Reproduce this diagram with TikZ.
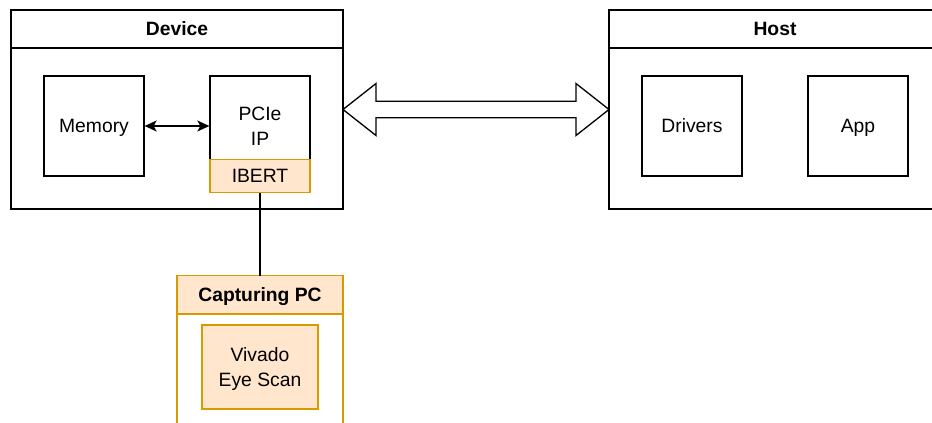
\documentclass[tikz,border=0pt]{standalone}
\usepackage{fontspec}
\setmainfont{Liberation Sans}
\usetikzlibrary{calc,arrows.meta}
\definecolor{orfill}{HTML}{FFE6CC}
\definecolor{orline}{HTML}{D79B00}
% line strut: keeps every label line the same height
\newcommand\lstrut{\rule[-6pt]{0pt}{25pt}}
\begin{document}
\begin{tikzpicture}[x=1pt,y=-1pt,
  lw/.style={line width=1.3pt},
  txt/.style={font=\fontsize{19.3}{25}\selectfont, align=center},
  block/.style={lw, draw=black, fill=white, minimum width=100pt, minimum height=100pt, inner sep=0pt, txt},
  frame/.style={lw, draw=black, fill=white, inner sep=0pt},
  head/.style={txt, font=\fontsize{19.3}{25}\selectfont\bfseries},
  orbox/.style={lw, draw=orline, fill=orfill, inner sep=0pt, txt}
]
\useasboundingbox (0,0) rectangle (932,423);
\clip (0,0) rectangle (932,423);

% Device container
\draw[frame] (11,10) rectangle (343,209);
\draw[lw] (11,48) -- (343,48);
\node[head] (devtitle) at (177,29) {Device\lstrut};
\coordinate (deve) at (343,109.5);

\node[block] (mem) at (94,126) {Memory\lstrut};
\node[block] (pcie) at (260,126) {PCIe\lstrut\\IP\lstrut};
\node[orbox, minimum width=100pt, minimum height=33pt] (ibert) at (260,176) {IBERT\lstrut};
\draw[lw, {Stealth[length=12pt,width=11pt,inset=3pt]}-{Stealth[length=12pt,width=11pt,inset=3pt]}] (mem.east) -- (pcie.west);

% Host container
\draw[frame] (609,10) rectangle (945,209);
\draw[lw] (609,48) -- (945,48);
\node[head] (hosttitle) at (775,29) {Host\lstrut};
\coordinate (hostw) at (609,109.5);

\node[block] (drv) at (692,126) {Drivers\lstrut};
\node[block] (app) at (858,126) {App\lstrut};

% Wide bidirectional link between device and host
\draw[lw, fill=white, line join=miter]
  (deve)
  -- ($(deve)+(33,-26)$) -- ($(deve)+(33,-8.3)$)
  -- ($(hostw)+(-33,-8.3)$) -- ($(hostw)+(-33,-26)$)
  -- (hostw)
  -- ($(hostw)+(-33,26)$) -- ($(hostw)+(-33,8.3)$)
  -- ($(deve)+(33,8.3)$) -- ($(deve)+(33,26)$) -- cycle;

% Capturing PC container
\draw[lw, draw=orline, fill=white] (177,275.7) rectangle (343,440);
\draw[lw, draw=orline, fill=orfill] (177,275.7) rectangle (343,314);
\node[head] (captitle) at (260,295) {Capturing PC\lstrut};
\coordinate (captop) at (260,275.7);
\node[orbox, minimum width=116pt, minimum height=84pt] (vivado) at (260,367) {Vivado\lstrut\\Eye Scan\lstrut};

\draw[lw] (ibert.south) -- (captop);
\end{tikzpicture}
\end{document}
